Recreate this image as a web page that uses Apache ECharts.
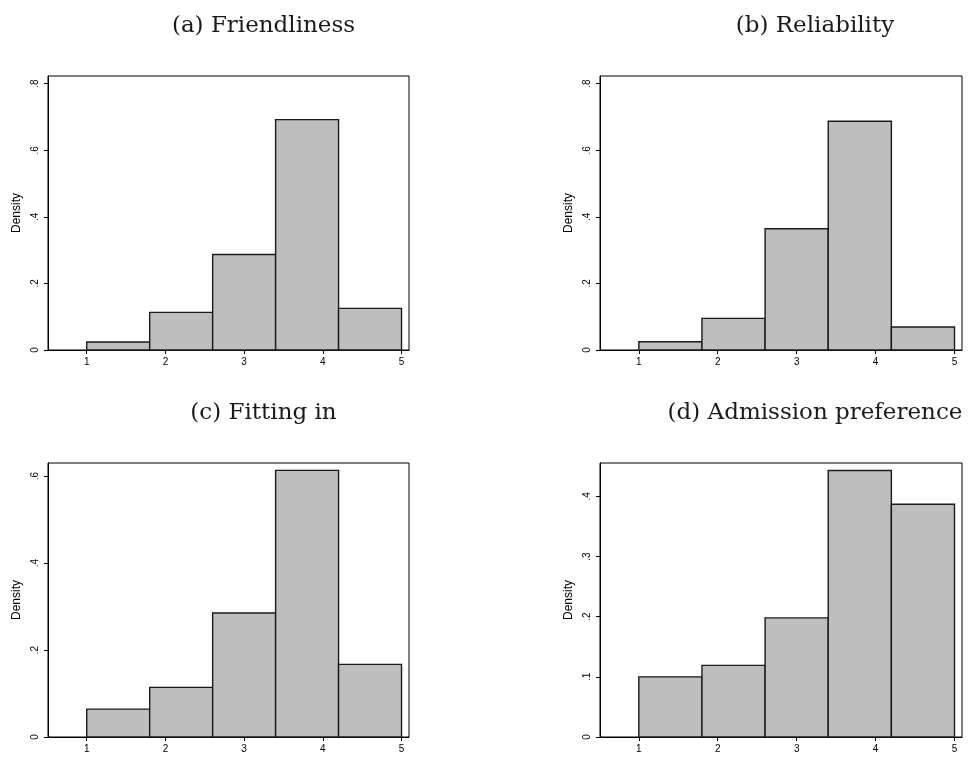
<!DOCTYPE html>
<html>
<head>
<meta charset="utf-8">
<title>Histograms</title>
<script src="https://cdn.jsdelivr.net/npm/echarts@6/dist/echarts.min.js"></script>
<style>
  html, body { margin: 0; padding: 0; background: #fff; }
  #chart { width: 980px; height: 761px; }
</style>
</head>
<body>
<div id="chart"></div>
<script>
// Five bins of width 0.8 spanning the 1–5 rating scale
const binEdges = [1, 1.8, 2.6, 3.4, 4.2, 5];
const xTicks = [1, 2, 3, 4, 5];

const panelTitles = ['(a) Friendliness', '(b) Reliability', '(c) Fitting in', '(d) Admission preference'];

// Density per bin
const friendliness = [0.024, 0.113, 0.287, 0.692, 0.125];
const reliability = [0.025, 0.095, 0.364, 0.687, 0.069];
const fittingIn = [0.064, 0.114, 0.285, 0.613, 0.167];
const admissionPreference = [0.100, 0.119, 0.198, 0.443, 0.387];

// y-axis ticks and upper limits
const yTicksA = [0, 0.2, 0.4, 0.6, 0.8];
const yTicksB = [0, 0.2, 0.4, 0.6, 0.8];
const yTicksC = [0, 0.2, 0.4, 0.6];
const yTicksD = [0, 0.1, 0.2, 0.3, 0.4];
const yMax = [0.823, 0.823, 0.630, 0.4555];

const xMin = 0.508, xMax = 5.095;

const panels = [
  { values: friendliness, ticks: yTicksA, grid: { left: 48, top: 76, width: 361, height: 274 }, title: { x: 263.5, y: 15 } },
  { values: reliability, ticks: yTicksB, grid: { left: 600, top: 76, width: 362, height: 274 }, title: { x: 815, y: 15 } },
  { values: fittingIn, ticks: yTicksC, grid: { left: 48, top: 463, width: 361, height: 274 }, title: { x: 263.5, y: 402 } },
  { values: admissionPreference, ticks: yTicksD, grid: { left: 600, top: 463, width: 362, height: 274 }, title: { x: 815, y: 402 } }
];

function fmtTick(v) {
  const r = Math.round(v * 1000) / 1000;
  if (r === 0) return '0';
  return String(r).replace(/^0\./, '.');
}

const tickFont = { fontFamily: 'Liberation Sans, Arial, sans-serif', fontSize: 10, color: '#000' };

const option = {
  animation: false,
  backgroundColor: '#fff',
  title: panels.map((p, i) => ({
    text: panelTitles[i],
    left: p.title.x,
    top: p.title.y,
    textAlign: 'center',
    padding: 0,
    textStyle: { fontFamily: 'DejaVu Serif, serif', fontSize: 23, fontWeight: 'normal', color: '#1a1a1a' }
  })),
  grid: panels.map(p => Object.assign({ show: true, borderColor: '#000', borderWidth: 1, backgroundColor: '#fff' }, p.grid)),
  xAxis: panels.map((p, i) => ({
    type: 'value',
    gridIndex: i,
    min: xMin,
    max: xMax,
    splitLine: { show: false },
    axisLine: { show: true, onZero: false, lineStyle: { color: '#000', width: 1 } },
    axisTick: { show: true, length: 4, customValues: xTicks, lineStyle: { color: '#000' } },
    axisLabel: Object.assign({ margin: 7, customValues: xTicks, formatter: v => String(v) }, tickFont)
  })),
  yAxis: panels.map((p, i) => ({
    type: 'value',
    gridIndex: i,
    min: 0,
    max: yMax[i],
    name: 'Density',
    nameLocation: 'middle',
    nameGap: 25,
    nameRotate: 90,
    nameTextStyle: { fontFamily: 'Liberation Sans, Arial, sans-serif', fontSize: 12, color: '#000' },
    splitLine: { show: false },
    axisLine: { show: true, onZero: false, lineStyle: { color: '#000', width: 1 } },
    axisTick: { show: true, length: 4, customValues: p.ticks, lineStyle: { color: '#000' } },
    axisLabel: Object.assign({ rotate: 90, margin: 8, customValues: p.ticks, formatter: fmtTick }, tickFont)
  })),
  series: panels.map((p, i) => ({
    type: 'custom',
    xAxisIndex: i,
    yAxisIndex: i,
    data: p.values.map((v, k) => [binEdges[k], binEdges[k + 1], v]),
    renderItem: function (params, api) {
      const topLeft = api.coord([api.value(0), api.value(2)]);
      const bottomRight = api.coord([api.value(1), 0]);
      return {
        type: 'rect',
        shape: {
          x: topLeft[0],
          y: topLeft[1],
          width: bottomRight[0] - topLeft[0],
          height: bottomRight[1] - topLeft[1]
        },
        style: { fill: '#bebebe', stroke: '#1a1a1a', lineWidth: 1.4 }
      };
    }
  }))
};

const chart = echarts.init(document.getElementById('chart'), null, { renderer: 'canvas' });
chart.setOption(option);
</script>
</body>
</html>
